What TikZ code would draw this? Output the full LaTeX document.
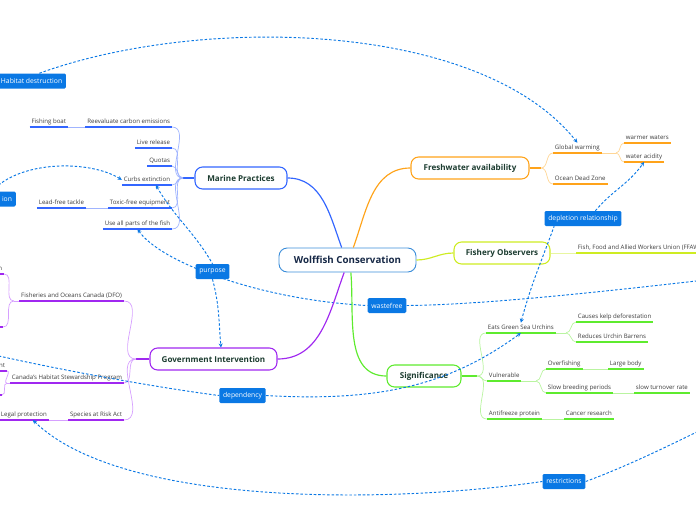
\documentclass[tikz,border=0pt]{standalone}
\usepackage{fontspec}
\setmainfont{Open Sans}
\usepackage{tikz}
\usetikzlibrary{arrows.meta,backgrounds}

\definecolor{relblue}{RGB}{10,120,228}
\definecolor{rootblue}{RGB}{60,142,218}
\definecolor{roottext}{RGB}{22,40,70}
\definecolor{topictext}{RGB}{28,60,48}
\definecolor{leaftext}{RGB}{60,60,60}
\definecolor{mpblue}{RGB}{51,102,255}
\definecolor{mplight}{RGB}{160,180,255}
\definecolor{fworange}{RGB}{255,163,26}
\definecolor{fwlight}{RGB}{255,214,150}
\definecolor{foyellow}{RGB}{206,236,34}
\definecolor{folight}{RGB}{232,246,160}
\definecolor{sggreen}{RGB}{94,235,46}
\definecolor{sglight}{RGB}{185,244,160}
\definecolor{gipurple}{RGB}{160,40,240}
\definecolor{gilight}{RGB}{214,160,255}

\begin{document}
\begin{tikzpicture}[x=0.03cm, y=0.03cm]
\tikzstyle{every node}+=[inner sep=0pt]
\tikzstyle{root}=[draw=rootblue, fill=white, rounded corners=7pt, line width=0.8pt, minimum width=4.11cm, minimum height=0.72cm, font=\fontsize{8.3}{10}\selectfont\bfseries, text=roottext]
\tikzstyle{topic}=[fill=white, rounded corners=6.5pt, line width=0.9pt, minimum height=0.66cm, font=\fontsize{6.9}{8}\selectfont\bfseries, text=topictext]
\tikzstyle{leaf}=[font=\fontsize{5.2}{6}\selectfont, text=leaftext, inner xsep=1.5pt, inner ysep=1.6pt, text height=4pt, text depth=1.2pt]
\tikzstyle{rlabel}=[fill=relblue, text=white, rounded corners=1.2pt, inner xsep=3.2pt, minimum height=0.45cm, font=\fontsize{5.8}{7}\selectfont]
\tikzstyle{rel}=[draw=relblue, line width=0.8pt, dash pattern=on 2.2pt off 1.6pt, >={Stealth[length=3.5pt,width=3.5pt]}]
\tikzstyle{under}=[line width=1.2pt]
\tikzstyle{twig}=[line width=0.6pt]
\useasboundingbox (0,0) rectangle (696,-520);
\clip (0,0) rectangle (696,-520);

\node[root] (wc) at (347.5,-260) {Wolffish Conservation};
\node[topic, draw=mpblue, minimum width=2.76cm] (mp) at (241,-178) {Marine Practices};
\node[topic, draw=fworange, minimum width=3.54cm] (fw) at (470,-168) {Freshwater availability};
\node[topic, draw=foyellow, minimum width=2.88cm] (fo) at (502,-253) {Fishery Observers};
\node[topic, draw=sggreen, minimum width=2.22cm] (sg) at (424,-376) {Significance};
\node[topic, draw=gipurple, minimum width=3.81cm] (gi) at (213.5,-359) {Government Intervention};

\draw[mpblue, line width=1pt] (wc.115) to[out=110,in=0] (mp.east);
\draw[fworange, line width=1pt] (wc.65) to[out=70,in=180] (fw.west);
\draw[foyellow, line width=1pt] (wc.east) to[out=0,in=180] (fo.west);
\draw[sggreen, line width=1pt] (wc.-75) to[out=-85,in=180] (sg.west);
\draw[gipurple, line width=1pt] (wc.-105) to[out=-110,in=0] (gi.east);

% marine practices
\coordinate (mpj) at (183,-178);
\node[leaf, anchor=south east] (re) at (172,-127) {Reevaluate carbon emissions};
\node[leaf, anchor=south east] (fb) at (68,-127) {Fishing boat};
\node[leaf, anchor=south east] (lr) at (172,-148) {Live release};
\node[leaf, anchor=south east] (qu) at (172,-166) {Quotas};
\node[leaf, anchor=south east] (ce) at (172,-185) {Curbs extinction};
\node[leaf, anchor=south east] (tf) at (172,-208) {Toxic-free equipment};
\node[leaf, anchor=south east] (lt) at (86,-208) {Lead-free tackle};
\node[leaf, anchor=south east] (ua) at (172,-229) {Use all parts of the fish};
\draw[mpblue, line width=1pt] (mpj) -- (mp.west);
\draw[twig, mplight] (re.south east) to[out=0,in=180] (mpj);
\draw[twig, mplight] (lr.south east) to[out=0,in=180] (mpj);
\draw[twig, mplight] (qu.south east) to[out=0,in=180] (mpj);
\draw[twig, mplight] (ce.south east) to[out=0,in=180] (mpj);
\draw[twig, mplight] (tf.south east) to[out=0,in=180] (mpj);
\draw[twig, mplight] (ua.south east) to[out=0,in=180] (mpj);
\draw[twig, mplight] (re.south west) -- (fb.south east);
\draw[twig, mplight] (tf.south west) -- (lt.south east);
\draw[under, mpblue] (re.south west) -- (re.south east);
\draw[under, mpblue] (fb.south west) -- (fb.south east);
\draw[under, mpblue] (lr.south west) -- (lr.south east);
\draw[under, mpblue] (qu.south west) -- (qu.south east);
\draw[under, mpblue] (ce.south west) -- (ce.south east);
\draw[under, mpblue] (tf.south west) -- (tf.south east);
\draw[under, mpblue] (lt.south west) -- (lt.south east);
\draw[under, mpblue] (ua.south west) -- (ua.south east);

% freshwater availability
\coordinate (fwj) at (541,-168);
\coordinate (gwj) at (616,-153);
\node[leaf, anchor=south west] (gw) at (553,-153) {Global warming};
\node[leaf, anchor=south west] (ww) at (624,-143) {warmer waters};
\node[leaf, anchor=south west] (wa) at (624,-162) {water acidity};
\node[leaf, anchor=south west] (od) at (553,-184) {Ocean Dead Zone};
\draw[fworange, line width=1pt] (fw.east) -- (fwj);
\draw[twig, fwlight] (fwj) to[out=0,in=180] (gw.south west);
\draw[twig, fwlight] (fwj) to[out=0,in=180] (od.south west);
\draw[twig, fwlight] (gw.south east) -- (gwj);
\draw[twig, fwlight] (gwj) to[out=0,in=180] (ww.south west);
\draw[twig, fwlight] (gwj) to[out=0,in=180] (wa.south west);
\draw[under, fworange] (gw.south west) -- (gw.south east);
\draw[under, fworange] (ww.south west) -- (ww.south east);
\draw[under, fworange] (wa.south west) -- (wa.south east);
\draw[under, fworange] (od.south west) -- (od.south east);

% fishery observers
\node[leaf, anchor=south west] (ff) at (576,-253) {Fish, Food and Allied Workers Union (FFAW)};
\draw[twig, folight] (fo.east) -- (ff.south west);
\draw[under, foyellow] (ff.south west) -- (ff.south east);

% significance
\coordinate (sgj) at (477,-376);
\coordinate (egj) at (566,-333);
\coordinate (vuj) at (536,-381);
\node[leaf, anchor=south west] (eg) at (486,-333) {Eats Green Sea Urchins};
\node[leaf, anchor=south west] (kd) at (576,-322) {Causes kelp deforestation};
\node[leaf, anchor=south west] (ub) at (576,-342) {Reduces Urchin Barrens};
\node[leaf, anchor=south west] (vu) at (487,-381) {Vulnerable};
\node[leaf, anchor=south west] (of) at (546,-369) {Overfishing};
\node[leaf, anchor=south west] (lb) at (608,-369) {Large body};
\node[leaf, anchor=south west] (sb) at (546,-393) {Slow breeding periods};
\node[leaf, anchor=south west] (st) at (634,-393) {slow turnover rate};
\node[leaf, anchor=south west] (ap) at (487,-419) {Antifreeze protein};
\node[leaf, anchor=south west] (cr) at (564,-419) {Cancer research};
\draw[sggreen, line width=1pt] (sg.east) -- (sgj);
\draw[twig, sglight] (sgj) to[out=0,in=180] (eg.south west);
\draw[twig, sglight] (sgj) to[out=0,in=180] (vu.south west);
\draw[twig, sglight] (sgj) to[out=0,in=180] (ap.south west);
\draw[twig, sglight] (eg.south east) -- (egj);
\draw[twig, sglight] (egj) to[out=0,in=180] (kd.south west);
\draw[twig, sglight] (egj) to[out=0,in=180] (ub.south west);
\draw[twig, sglight] (vu.south east) -- (vuj);
\draw[twig, sglight] (vuj) to[out=0,in=180] (of.south west);
\draw[twig, sglight] (vuj) to[out=0,in=180] (sb.south west);
\draw[twig, sglight] (of.south east) -- (lb.south west);
\draw[twig, sglight] (sb.south east) -- (st.south west);
\draw[twig, sglight] (ap.south east) -- (cr.south west);
\draw[under, sggreen] (eg.south west) -- (eg.south east);
\draw[under, sggreen] (kd.south west) -- (kd.south east);
\draw[under, sggreen] (ub.south west) -- (ub.south east);
\draw[under, sggreen] (vu.south west) -- (vu.south east);
\draw[under, sggreen] (of.south west) -- (of.south east);
\draw[under, sggreen] (lb.south west) -- (lb.south east);
\draw[under, sggreen] (sb.south west) -- (sb.south east);
\draw[under, sggreen] (st.south west) -- (st.south east);
\draw[under, sggreen] (ap.south west) -- (ap.south east);
\draw[under, sggreen] (cr.south west) -- (cr.south east);

% government intervention
\coordinate (gij) at (136,-359);
\coordinate (dfj) at (14,-301);
\coordinate (hsj) at (7,-383);
\node[leaf, anchor=south east] (df) at (124,-301) {Fisheries and Oceans Canada (DFO)};
\node[leaf, anchor=south east, text width=1cm, align=right] (d1) at (4,-274) {n};
\node[leaf, anchor=south east, minimum width=1cm] (d2) at (3,-327) {};
\node[leaf, anchor=south east] (hs) at (124,-383) {Canada's Habitat Stewardship Program};
\node[leaf, anchor=south east, text width=1cm, align=right] (h1) at (7,-371) {nt};
\node[leaf, anchor=south east, minimum width=1cm] (h2) at (2,-395) {};
\node[leaf, anchor=south east] (sa) at (124,-420) {Species at Risk Act};
\node[leaf, anchor=south west] (lp) at (-1,-420) {Legal protection};
\draw[gipurple, line width=1pt] (gi.west) -- (gij);
\draw[twig, gilight] (df.south east) to[out=0,in=180] (gij);
\draw[twig, gilight] (hs.south east) to[out=0,in=180] (gij);
\draw[twig, gilight] (sa.south east) to[out=0,in=180] (gij);
\draw[twig, gilight] (df.south west) -- (dfj);
\draw[twig, gilight] (dfj) to[out=180,in=0] (d1.south east);
\draw[twig, gilight] (dfj) to[out=180,in=0] (d2.south east);
\draw[twig, gilight] (hs.south west) -- (hsj);
\draw[twig, gilight] (hsj) to[out=180,in=0] (h1.south east);
\draw[twig, gilight] (hsj) to[out=180,in=0] (h2.south east);
\draw[twig, gilight] (sa.south west) -- (lp.south east);
\draw[under, gipurple] (df.south west) -- (df.south east);
\draw[under, gipurple] (d1.south west) -- (d1.south east);
\draw[under, gipurple] (d2.south west) -- (d2.south east);
\draw[under, gipurple] (hs.south west) -- (hs.south east);
\draw[under, gipurple] (h1.south west) -- (h1.south east);
\draw[under, gipurple] (h2.south west) -- (h2.south east);
\draw[under, gipurple] (sa.south west) -- (sa.south east);
\draw[under, gipurple] (lp.south west) -- (lp.south east);

% relationships
\node[rlabel, anchor=west] (hd) at (-3,-81) {Habitat destruction};
\node[rlabel, anchor=east, text width=1.2cm, align=right] (io) at (16,-199) {ion};
\node[rlabel] (pp) at (212.5,-271.5) {purpose};
\node[rlabel] (wf) at (387,-305.5) {wastefree};
\node[rlabel] (dp) at (242.5,-395.5) {dependency};
\node[rlabel] (dr) at (583,-218.5) {depletion relationship};
\node[rlabel] (rs) at (564,-481.5) {restrictions};
\coordinate (hds) at (-15,-100);
\coordinate (wfe) at (705,-280);
\coordinate (dps) at (-10,-354);
\coordinate (rse) at (705,-428);

\draw[rel] (hds) -- (hd.south west);
\draw[rel, ->] (hd.45) .. controls (200,-15) and (480,-20) .. (gw.north);
\draw[rel, ->] (io.north) .. controls (20,-160) and (90,-160) .. (ce.west);
\draw[rel, <-] (ce.-30) to[out=-60,in=120] (pp.north);
\draw[rel, ->] (pp.south) to[out=-75,in=95] (gi.57);
\begin{pgfonlayer}{background}
\draw[rel, <-] (ua.south) .. controls (160,-262) and (260,-300) .. (wf.west);
\end{pgfonlayer}
\draw[rel] (wf.east) .. controls (480,-305) and (600,-292) .. (wfe);
\draw[rel] (dps) .. controls (60,-370) and (160,-388) .. (dp.west);
\draw[rel, ->] (dp.east) .. controls (380,-402) and (450,-385) .. (eg.south);
\draw[rel, <-] (eg.north) to[out=75,in=-110] (dr.-165);
\draw[rel, ->] (dr.32) to[out=50,in=-125] (wa.south);
\draw[rel, <-] (lp.-30) .. controls (120,-505) and (380,-505) .. (rs.west);
\draw[rel] (rs.east) .. controls (630,-465) and (670,-445) .. (rse);
\end{tikzpicture}
\end{document}
